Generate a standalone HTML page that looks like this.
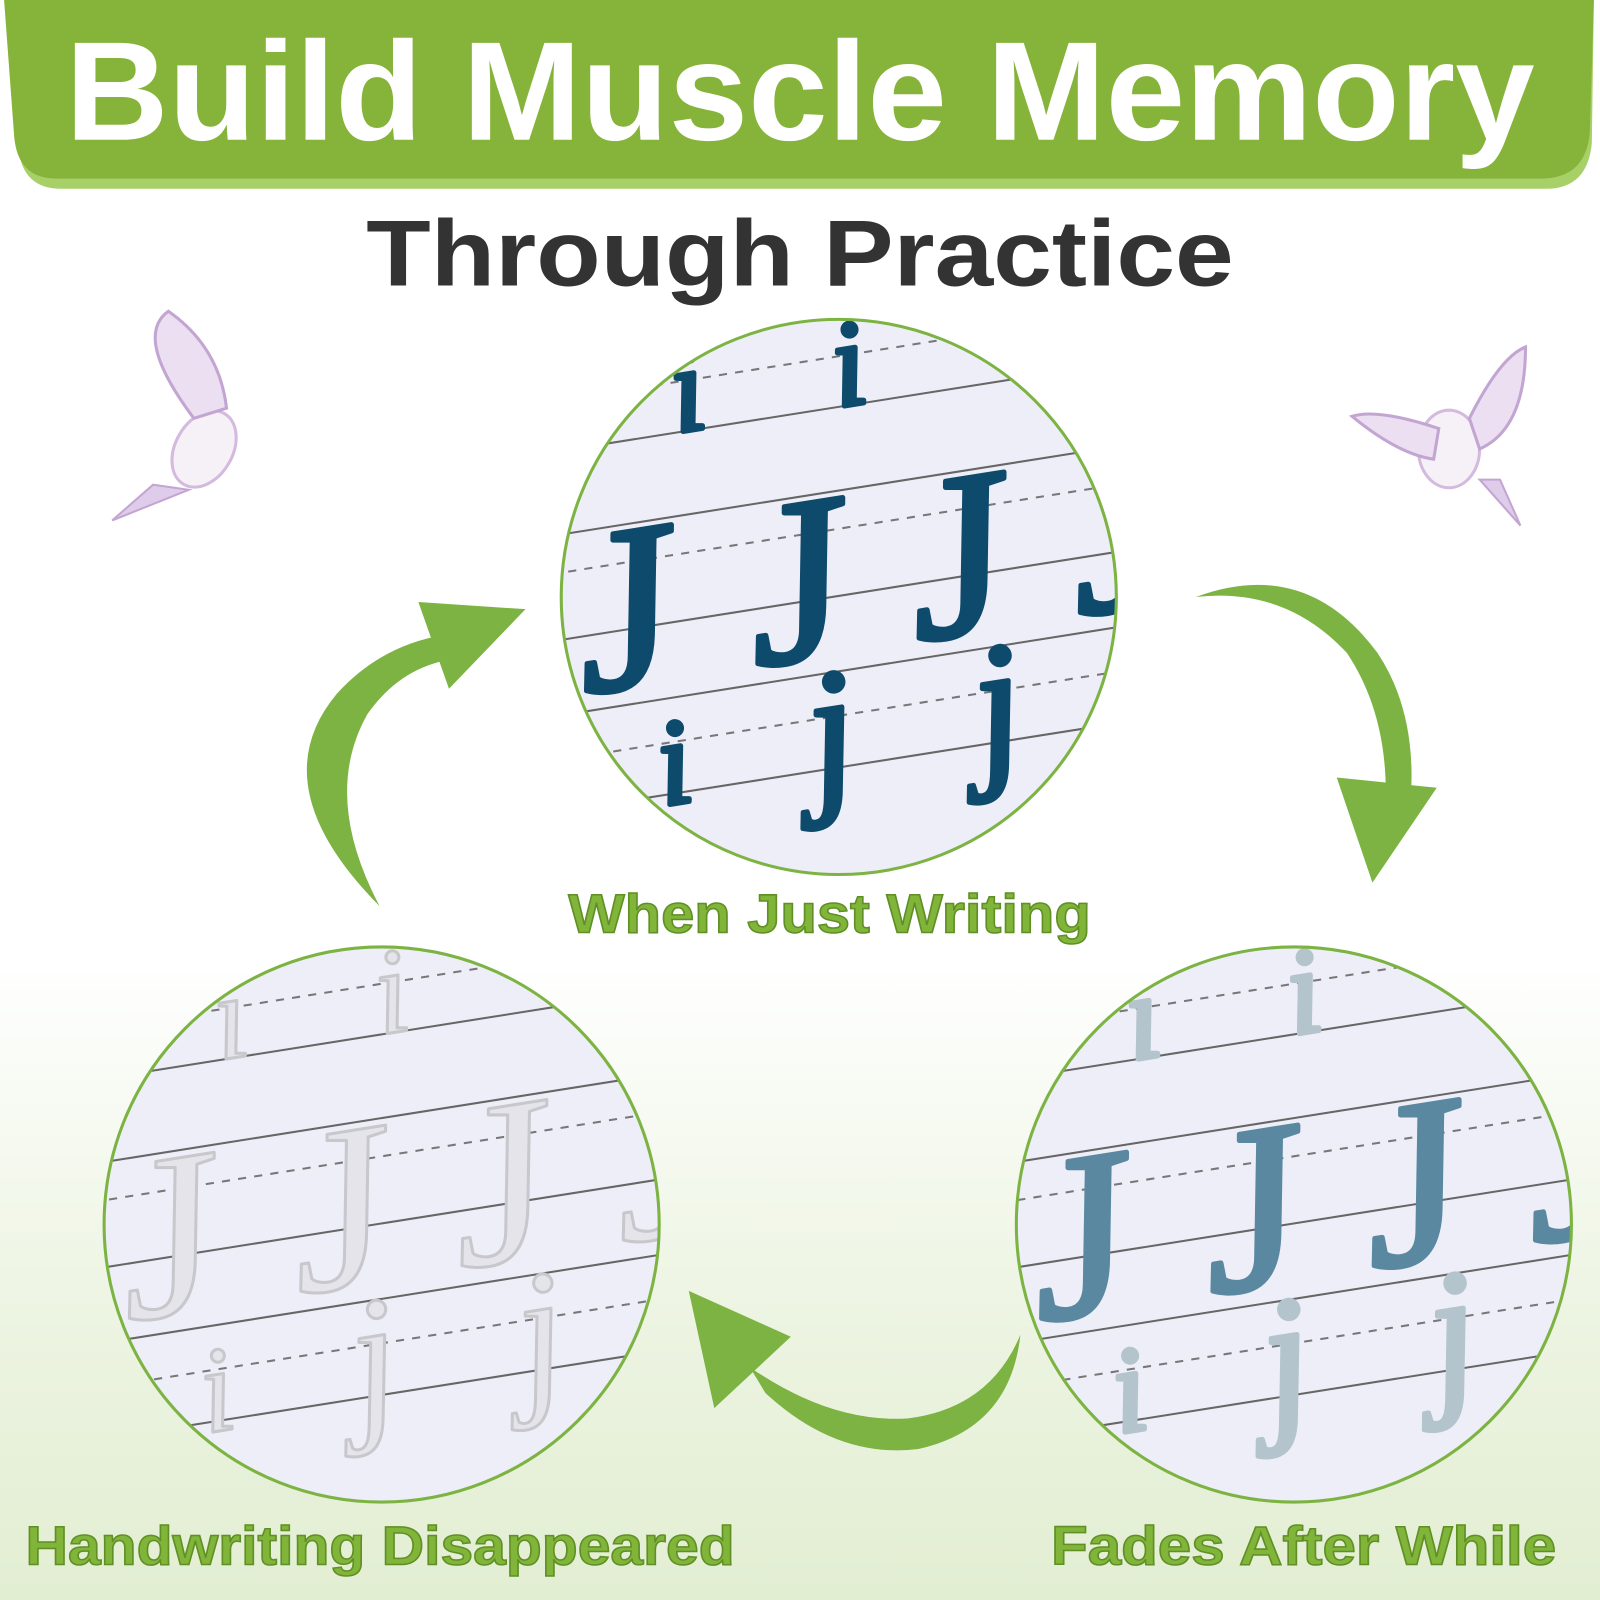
<!DOCTYPE html>
<html><head><meta charset="utf-8"><style>
html,body{margin:0;padding:0;background:#fff;}
svg{display:block;}
</style></head><body>
<svg width="1600" height="1600" viewBox="0 0 1568 1568" xmlns="http://www.w3.org/2000/svg">
<defs>
<linearGradient id="bg" x1="0" y1="0" x2="0" y2="1">
<stop offset="0" stop-color="#fff"/><stop offset="0.6" stop-color="#fff"/><stop offset="0.8" stop-color="#eef5e4"/><stop offset="1" stop-color="#e2eed2"/>
</linearGradient>
<clipPath id="c1"><circle cx="822" cy="585" r="272"/></clipPath>
<clipPath id="c2"><circle cx="374" cy="1200" r="272"/></clipPath>
<clipPath id="c3"><circle cx="1268" cy="1200" r="272"/></clipPath>
</defs>
<rect width="1568" height="1568" fill="url(#bg)"/>
<!-- banner -->
<path d="M8 0 H1562 L1560 140 Q1556 185 1515 185 H60 Q22 185 18 145 Z" fill="#a8d068"/>
<path d="M4 0 H1562 L1558 130 Q1554 175 1510 175 H55 Q18 175 14 135 Z" fill="#86b33a"/>
<text x="784" y="137" text-anchor="middle" font-family="Liberation Sans, sans-serif" font-weight="bold" font-size="138" fill="#fff" textLength="1440" lengthAdjust="spacingAndGlyphs">Build Muscle Memory</text>
<text x="784" y="280" text-anchor="middle" font-family="Liberation Sans, sans-serif" font-weight="bold" font-size="92" fill="#333" textLength="850" lengthAdjust="spacingAndGlyphs">Through Practice</text>

<!-- circle 1 -->
<g clip-path="url(#c1)">
<rect x="540" y="300" width="570" height="570" fill="#eeeef8"/>
<g transform="rotate(-9 822 585)" font-family="Liberation Serif, serif" font-style="italic" stroke-width="5" stroke-linejoin="round">
<g stroke="#666" stroke-width="2"><line x1="500" y1="401" x2="1150" y2="401"/><line x1="500" y1="482" x2="1150" y2="482"/><line x1="500" y1="584" x2="1150" y2="584"/><line x1="500" y1="657" x2="1150" y2="657"/><line x1="500" y1="750" x2="1150" y2="750"/></g>
<g stroke="#777" stroke-width="2" stroke-dasharray="8 8"><line x1="500" y1="352" x2="1150" y2="352"/><line x1="500" y1="519" x2="1150" y2="519"/><line x1="500" y1="700" x2="1150" y2="700"/></g>
<g fill="#0d4a6b" stroke="#0d4a6b">
<text x="690" y="401" font-size="120">i</text><text x="850" y="401" font-size="120">i</text>
<text x="560" y="640" font-size="230">J</text><text x="730" y="640" font-size="230">J</text><text x="890" y="640" font-size="230">J</text><text x="1050" y="640" font-size="230">J</text>
<text x="620" y="760" font-size="120">i</text><text x="770" y="770" font-size="170">j</text><text x="935" y="770" font-size="170">j</text>
</g></g></g>
<circle cx="822" cy="585" r="272" fill="none" stroke="#7cb342" stroke-width="3"/>

<!-- circle 2 faded -->
<g clip-path="url(#c2)">
<rect x="90" y="920" width="570" height="570" fill="#eeeef8"/>
<g transform="rotate(-9 374 1200)" font-family="Liberation Serif, serif" font-style="italic" stroke-width="5" stroke-linejoin="round">
<g stroke="#666" stroke-width="2"><line x1="50" y1="1016" x2="700" y2="1016"/><line x1="50" y1="1097" x2="700" y2="1097"/><line x1="50" y1="1199" x2="700" y2="1199"/><line x1="50" y1="1272" x2="700" y2="1272"/><line x1="50" y1="1365" x2="700" y2="1365"/></g>
<g stroke="#777" stroke-width="2" stroke-dasharray="8 8"><line x1="50" y1="967" x2="700" y2="967"/><line x1="50" y1="1134" x2="700" y2="1134"/><line x1="50" y1="1315" x2="700" y2="1315"/></g>
<g fill="#e4e4ea" stroke="#c8c8cc" stroke-width="3">
<text x="242" y="1016" font-size="120">i</text><text x="402" y="1016" font-size="120">i</text>
<text x="112" y="1255" font-size="230">J</text><text x="282" y="1255" font-size="230">J</text><text x="442" y="1255" font-size="230">J</text><text x="602" y="1255" font-size="230">J</text>
<text x="172" y="1375" font-size="120">i</text><text x="322" y="1385" font-size="170">j</text><text x="487" y="1385" font-size="170">j</text>
</g></g></g>
<circle cx="374" cy="1200" r="272" fill="none" stroke="#7cb342" stroke-width="3"/>

<!-- circle 3 fading -->
<g clip-path="url(#c3)">
<rect x="990" y="920" width="570" height="570" fill="#eeeef8"/>
<g transform="rotate(-9 1268 1200)" font-family="Liberation Serif, serif" font-style="italic" stroke-width="5" stroke-linejoin="round">
<g stroke="#666" stroke-width="2"><line x1="940" y1="1016" x2="1600" y2="1016"/><line x1="940" y1="1097" x2="1600" y2="1097"/><line x1="940" y1="1199" x2="1600" y2="1199"/><line x1="940" y1="1272" x2="1600" y2="1272"/><line x1="940" y1="1365" x2="1600" y2="1365"/></g>
<g stroke="#777" stroke-width="2" stroke-dasharray="8 8"><line x1="940" y1="967" x2="1600" y2="967"/><line x1="940" y1="1134" x2="1600" y2="1134"/><line x1="940" y1="1315" x2="1600" y2="1315"/></g>
<g fill="#b4c4cc" stroke="#b4c4cc">
<text x="1136" y="1016" font-size="120">i</text><text x="1296" y="1016" font-size="120">i</text>
<text x="1066" y="1375" font-size="120">i</text><text x="1216" y="1385" font-size="170">j</text><text x="1381" y="1385" font-size="170">j</text>
</g>
<g fill="#5a88a0" stroke="#5a88a0">
<text x="1006" y="1255" font-size="230">J</text><text x="1176" y="1255" font-size="230">J</text><text x="1336" y="1255" font-size="230">J</text><text x="1496" y="1255" font-size="230">J</text>
</g></g></g>
<circle cx="1268" cy="1200" r="272" fill="none" stroke="#7cb342" stroke-width="3"/>

<!-- arrows -->
<g fill="#7cb342">
<path d="M372 888 Q255 770 330 680 Q380 625 455 620 L452 645 Q395 650 360 700 Q315 780 372 888 Z"/>
<polygon points="515,597 410,590 440,675"/>
<path d="M1172 585 Q1280 545 1350 640 Q1390 700 1382 790 L1358 785 Q1360 700 1320 640 Q1260 575 1172 585 Z"/>
<polygon points="1345,865 1310,762 1408,772"/>
<path d="M1000 1308 Q990 1400 900 1420 Q820 1430 750 1365 L735 1340 Q815 1395 890 1390 Q970 1380 1000 1308 Z"/>
<polygon points="675,1265 700,1380 775,1310"/>
</g>

<!-- birds -->
<g opacity="0.8">
<ellipse cx="200" cy="440" rx="28" ry="40" fill="#f4eef6" stroke="#c9a9d6" stroke-width="3" transform="rotate(30 200 440)"/>
<path d="M190 410 Q130 330 165 305 Q215 340 222 400 Z" fill="#e8d8f0" stroke="#b58fc8" stroke-width="3"/>
<path d="M185 480 L110 510 L150 475 Z" fill="#d8c0e6" stroke="#b58fc8" stroke-width="2"/>
<ellipse cx="1420" cy="440" rx="30" ry="38" fill="#f4eef6" stroke="#c9a9d6" stroke-width="3"/>
<path d="M1410 420 Q1350 400 1325 408 Q1370 445 1405 450 Z" fill="#e8d8f0" stroke="#b58fc8" stroke-width="3"/>
<path d="M1440 410 Q1470 350 1495 340 Q1495 420 1450 440 Z" fill="#e8d8f0" stroke="#b58fc8" stroke-width="3"/>
<path d="M1450 470 L1490 515 L1470 470 Z" fill="#d8c0e6" stroke="#b58fc8" stroke-width="2"/>
</g>

<!-- labels -->
<g font-family="Liberation Sans, sans-serif" font-weight="bold" font-size="54" fill="#80b53a" stroke="#5f8f25" stroke-width="1.5">
<text x="813" y="914" text-anchor="middle" textLength="512" lengthAdjust="spacingAndGlyphs">When Just Writing</text>
<text x="25" y="1533" textLength="695" lengthAdjust="spacingAndGlyphs">Handwriting Disappeared</text>
<text x="1030" y="1533" textLength="495" lengthAdjust="spacingAndGlyphs">Fades After While</text>
</g>
</svg>
</body></html>
